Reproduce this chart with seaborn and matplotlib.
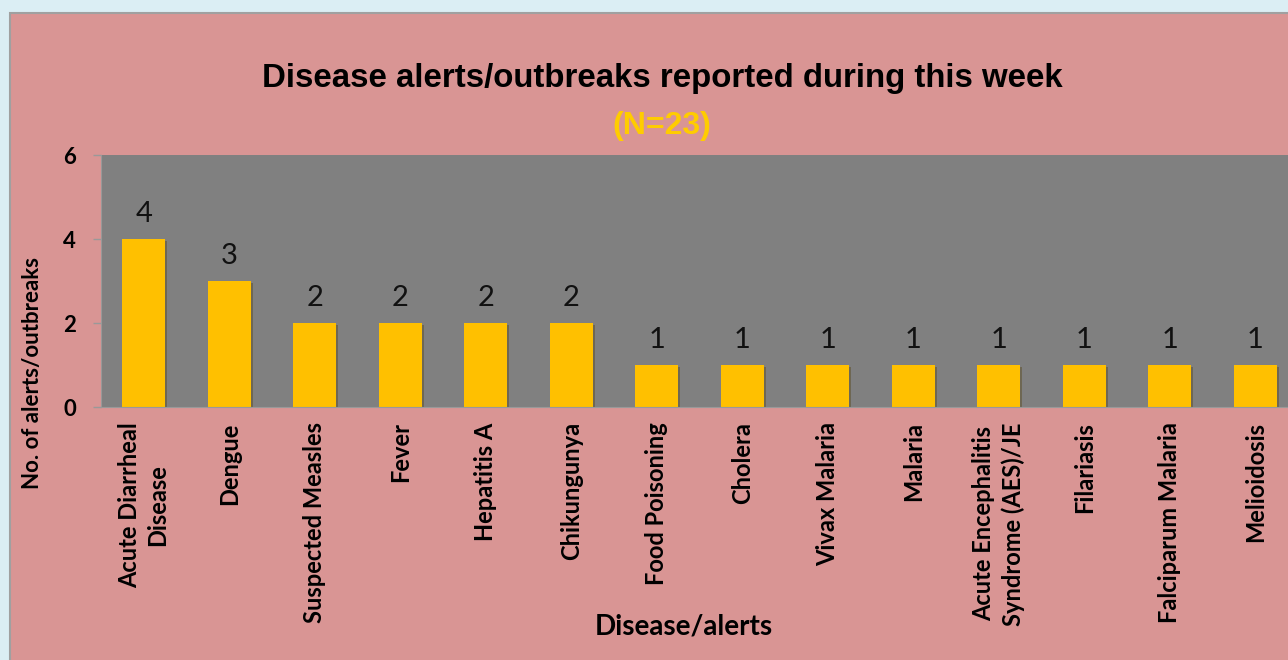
import matplotlib
matplotlib.use("Agg")
import matplotlib.pyplot as plt
import matplotlib.patheffects as pe
from matplotlib.patches import Rectangle
import seaborn as sns

# === datos ===
enfermedades = [
    "Acute Diarrheal\nDisease", "Dengue", "Suspected Measles", "Fever",
    "Hepatitis A", "Chikungunya", "Food Poisoning", "Cholera",
    "Vivax Malaria", "Malaria", "Acute Encephalitis\nSyndrome (AES)/JE",
    "Filariasis", "Falciparum Malaria", "Melioidosis",
]
alertas = [4, 3, 2, 2, 2, 2, 1, 1, 1, 1, 1, 1, 1, 1]
yticks = [0, 2, 4, 6]

titulo = "Disease alerts/outbreaks reported during this week"
subtitulo = "(N=23)"

# === figura ===
sns.set_style("white")
plt.rcParams["text.color"] = "black"
plt.rcParams["axes.labelcolor"] = "black"

fig = plt.figure(figsize=(12.88, 6.6), dpi=100)
fig.patch.set_facecolor("#DBEEF4")

# panel rosa con borde gris
fig.patches.append(Rectangle((10 / 1288, -0.1), 1.2, 0.1 + 647 / 660,
                             transform=fig.transFigure, facecolor="#D99594",
                             edgecolor="#A0A0A0", linewidth=1.5, zorder=-5))

ax = fig.add_axes([101 / 1288, 253 / 660, 1197 / 1288, 252 / 660])
ax.set_facecolor("#808080")

sns.barplot(x=enfermedades, y=alertas, color="#FFC000", saturation=1,
            width=0.5, linewidth=0, ax=ax)
for barra in ax.patches:
    barra.set_path_effects([pe.SimplePatchShadow(offset=(1.5, -1.5), alpha=0.35),
                            pe.Normal()])

for c in ax.containers:
    ax.bar_label(c, padding=9, fontsize=21, family="Lato", color="#111111")

ax.set_xlim(-0.5, len(enfermedades) - 0.5)
ax.set_ylim(0, 6)
ax.set_yticks(yticks)
ax.tick_params(axis="y", length=6, width=1, color="#999999", pad=12,
               left=True, labelsize=16, labelcolor="black")
ax.tick_params(axis="x", length=0, pad=11, labelsize=17, labelcolor="black")
for lbl in ax.get_yticklabels():
    lbl.set_fontweight("bold")
    lbl.set_family("Lato")
for lbl in ax.get_xticklabels():
    lbl.set_fontweight("bold")
    lbl.set_family("Lato")
    lbl.set_rotation(90)
    lbl.set_multialignment("center")
    lbl.set_linespacing(1.3)

for s in ["top", "right"]:
    ax.spines[s].set_visible(False)
ax.spines["left"].set_color("#999999")
ax.spines["bottom"].set_color("#999999")

fig.text(684 / 1288, 1 - 627 / 660, "Disease/alerts", ha="center", va="center",
         fontsize=20, fontweight="bold", family="Lato")
fig.text(33 / 1288, 1 - 373 / 660, "No. of alerts/outbreaks", ha="center",
         va="center", rotation=90, fontsize=16, fontweight="bold", family="Lato")

fig.text(662 / 1288, 1 - 78 / 660, titulo, ha="center", va="center",
         fontsize=23.8, fontweight="bold", family="Liberation Sans")
fig.text(662 / 1288, 1 - 126 / 660, subtitulo, ha="center", va="center",
         fontsize=23, fontweight="bold", family="Liberation Sans",
         color="#FFCC00")

fig.savefig("out.png", dpi=100, facecolor=fig.get_facecolor())
